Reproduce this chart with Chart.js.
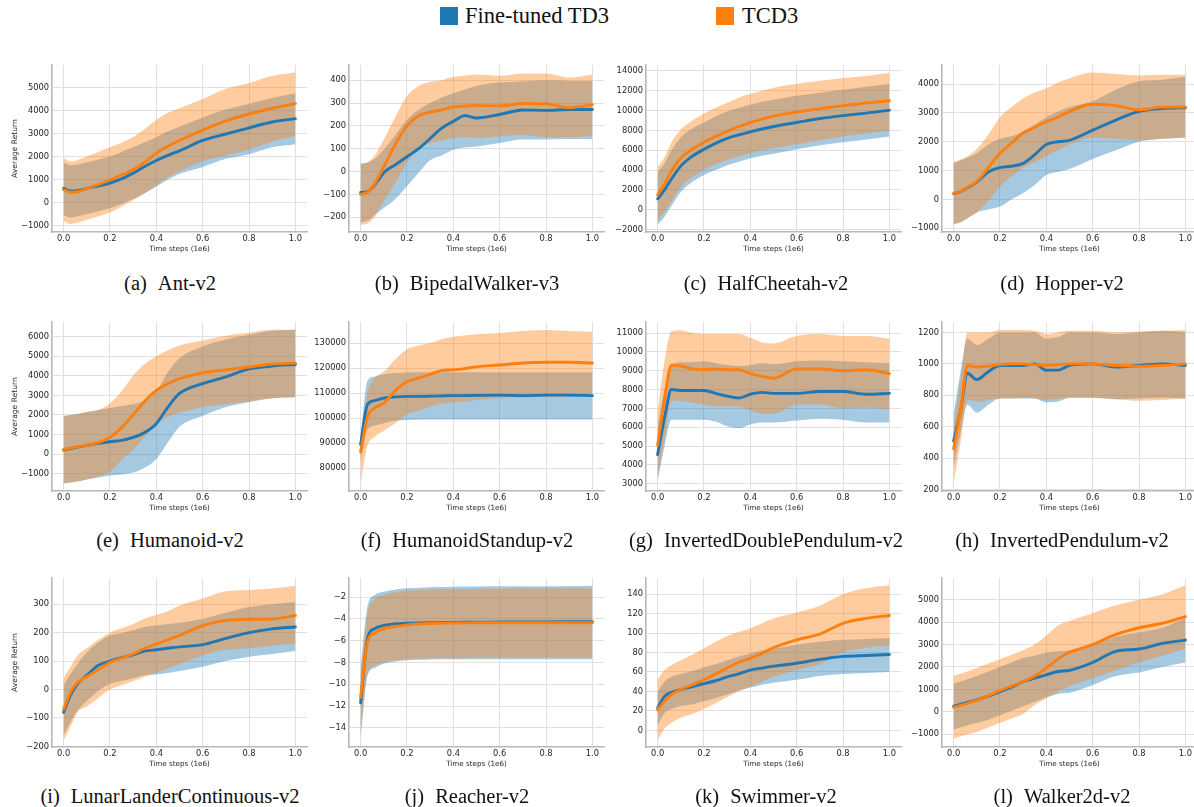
<!DOCTYPE html>
<html>
<head>
<meta charset="utf-8">
<script src="https://cdn.jsdelivr.net/npm/chart.js@4.4.1/dist/chart.umd.min.js"></script>
<style>
body { margin:0; width:1194px; height:807px; background:#fff; position:relative; overflow:hidden; font-family:"Liberation Serif", serif; }
.panel { position:absolute; }
.cap { position:absolute; font-size:20.5px; color:#111; white-space:pre; transform:translate(-50%, -50%); display:flex; gap:11px; }
.sw { position:absolute; width:18px; height:18px; }
.lt { position:absolute; font-size:22.5px; color:#111; transform:translateY(-50%); white-space:pre; }
</style>
</head>
<body>
<div class="sw" style="left:440px;top:7px;background:#1f77b4"></div>
<div class="lt" style="left:465px;top:16px">Fine-tuned TD3</div>
<div class="sw" style="left:716px;top:7px;background:#ff7f0e"></div>
<div class="lt" style="left:742px;top:16px">TCD3</div>

<script>
"use strict";

// Learning curves: fine-tuned TD3 vs TCD3, mean with shaded band

const steps = [0, 0.03, 0.06, 0.1, 0.15, 0.2, 0.25, 0.3, 0.35, 0.4, 0.45, 0.5, 0.6, 0.7, 0.8, 0.9, 1.0];
const xTicks = [0, 0.2, 0.4, 0.6, 0.8, 1.0];

// (a) Ant-v2
const antTdMean = [620, 500, 520, 620, 720, 850, 1030, 1280, 1570, 1830, 2050, 2250, 2700, 2980, 3250, 3500, 3650];
const antTdLo = [-550, -650, -600, -500, -380, -250, -60, 150, 400, 700, 1000, 1250, 1550, 1900, 2100, 2400, 2530];
const antTdHi = [1750, 1620, 1650, 1750, 1870, 2000, 2200, 2400, 2620, 2850, 3100, 3300, 3700, 4050, 4300, 4550, 4750];
const antTcMean = [560, 450, 470, 620, 780, 980, 1200, 1430, 1750, 2150, 2450, 2700, 3150, 3550, 3850, 4100, 4300];
const antTcLo = [-800, -930, -880, -750, -600, -430, -180, 100, 400, 750, 1100, 1350, 1800, 2050, 2300, 2650, 2900];
const antTcHi = [1950, 1780, 1850, 2000, 2200, 2400, 2600, 2850, 3200, 3600, 3900, 4100, 4500, 4950, 5200, 5500, 5650];
const antTicks = [-1000, 0, 1000, 2000, 3000, 4000, 5000];

// (b) BipedalWalker-v3
const bipTdMean = [-92, -88, -60, -5, 30, 65, 100, 145, 190, 220, 245, 235, 250, 270, 268, 272, 272];
const bipTdLo = [-225, -215, -190, -160, -120, -65, -5, 50, 70, 95, 105, 110, 125, 140, 140, 143, 143];
const bipTdHi = [35, 40, 55, 96, 160, 227, 270, 300, 325, 343, 360, 375, 390, 395, 400, 397, 397];
const bipTcMean = [-100, -90, -55, 20, 120, 200, 245, 260, 270, 283, 287, 290, 288, 298, 297, 280, 293];
const bipTcLo = [-235, -228, -200, -130, -50, 40, 95, 125, 135, 147, 150, 148, 155, 160, 150, 150, 157];
const bipTcHi = [35, 40, 70, 140, 240, 330, 375, 393, 400, 415, 420, 425, 420, 430, 430, 412, 425];
const bipTicks = [-200, -100, 0, 100, 200, 300, 400];

// (c) HalfCheetah-v2
const hcTdMean = [1100, 2000, 3100, 4400, 5400, 6100, 6700, 7200, 7550, 7850, 8150, 8400, 8800, 9200, 9500, 9750, 10050];
const hcTdLo = [-1500, -700, 400, 1800, 2800, 3500, 4000, 4500, 4850, 5200, 5450, 5650, 6100, 6500, 6800, 7100, 7400];
const hcTdHi = [3800, 4700, 6000, 7300, 8200, 8800, 9400, 9900, 10300, 10600, 10900, 11100, 11500, 11800, 12100, 12400, 12700];
const hcTcMean = [1500, 2600, 3900, 5200, 6100, 6800, 7400, 7900, 8400, 8800, 9150, 9450, 9850, 10200, 10500, 10750, 11000];
const hcTcLo = [-1100, -200, 800, 2300, 3300, 4000, 4600, 5000, 5400, 5700, 6000, 6200, 6600, 7000, 7400, 7700, 8000];
const hcTcHi = [4300, 5300, 6800, 8100, 9000, 9700, 10300, 10800, 11300, 11700, 12000, 12300, 12700, 13000, 13300, 13500, 13800];
const hcTicks = [-2000, 0, 2000, 4000, 6000, 8000, 10000, 12000, 14000];

// (d) Hopper-v2
const hopTdMean = [200, 270, 400, 600, 950, 1100, 1150, 1250, 1550, 1900, 2000, 2050, 2400, 2750, 3050, 3150, 3180];
const hopTdLo = [-850, -780, -650, -450, -350, -250, 0, 220, 500, 850, 950, 1050, 1400, 1700, 2000, 2100, 2150];
const hopTdHi = [1250, 1350, 1450, 1600, 1900, 2100, 2200, 2350, 2600, 2850, 3050, 3200, 3400, 3800, 4100, 4150, 4250];
const hopTcMean = [200, 280, 420, 620, 1100, 1600, 1950, 2300, 2500, 2700, 2850, 3050, 3300, 3250, 3100, 3200, 3200];
const hopTcLo = [-880, -800, -650, -450, -50, 450, 800, 1100, 1300, 1500, 1700, 1900, 2150, 2100, 2050, 2100, 2150];
const hopTcHi = [1300, 1380, 1500, 1750, 2250, 2850, 3200, 3500, 3700, 3850, 4050, 4200, 4400, 4350, 4300, 4320, 4320];
const hopTicks = [-1000, 0, 1000, 2000, 3000, 4000];

// (e) Humanoid-v2
const humTdMean = [200, 280, 350, 440, 550, 630, 700, 850, 1100, 1550, 2400, 3100, 3600, 3950, 4350, 4500, 4580];
const humTdLo = [-1500, -1450, -1400, -1300, -1200, -1100, -1050, -950, -700, -250, 600, 1400, 1950, 2400, 2650, 2850, 2900];
const humTdHi = [1950, 2000, 2050, 2150, 2250, 2350, 2450, 2550, 2750, 3200, 4200, 4900, 5500, 5850, 6100, 6300, 6350];
const humTcMean = [230, 300, 370, 450, 580, 850, 1350, 2000, 2700, 3250, 3600, 3850, 4150, 4300, 4450, 4600, 4650];
const humTcLo = [-1500, -1450, -1400, -1300, -1150, -900, -300, 200, 900, 1500, 1900, 2100, 2400, 2550, 2700, 2850, 2900];
const humTcHi = [1950, 2000, 2050, 2150, 2250, 2600, 3200, 4000, 4600, 5000, 5300, 5550, 5800, 6050, 6200, 6350, 6350];
const humTicks = [-1000, 0, 1000, 2000, 3000, 4000, 5000, 6000];

// (f) HumanoidStandup-v2
const hsTdMean = [89500, 105500, 107000, 108000, 108500, 108700, 108700, 108800, 108900, 109000, 109000, 109100, 109200, 109000, 109200, 109200, 109000];
const hsTdLo = [82000, 95500, 97000, 98000, 99000, 99300, 99400, 99500, 99500, 99500, 99500, 99500, 99500, 99500, 99500, 99500, 99500];
const hsTdHi = [93000, 115000, 116500, 117500, 118000, 118200, 118300, 118300, 118300, 118300, 118300, 118300, 118300, 118300, 118300, 118300, 118300];
const hsTcMean = [86500, 100500, 104000, 106000, 111000, 114500, 116000, 117500, 119000, 119300, 119800, 120500, 121200, 122000, 122300, 122300, 122000];
const hsTcLo = [74000, 89000, 92500, 95000, 98000, 101500, 103000, 104500, 105800, 106200, 106600, 107200, 108000, 108300, 108500, 108700, 108800];
const hsTcHi = [93000, 110000, 116000, 118500, 123500, 127500, 129000, 130000, 131500, 132500, 133000, 133500, 134000, 134800, 135200, 134800, 134500];
const hsTicks = [80000, 90000, 100000, 110000, 120000, 130000];

// (g) InvertedDoublePendulum-v2
const idpTdMean = [4550, 6500, 8000, 7950, 7950, 7950, 7800, 7650, 7550, 7750, 7850, 7800, 7800, 7900, 7900, 7750, 7800];
const idpTdLo = [3100, 5000, 6400, 6400, 6400, 6400, 6300, 6050, 5950, 6150, 6250, 6250, 6350, 6450, 6400, 6250, 6250];
const idpTdHi = [6000, 8000, 9300, 9450, 9450, 9500, 9400, 9300, 9250, 9300, 9400, 9350, 9500, 9550, 9500, 9450, 9400];
const idpTcMean = [5050, 7500, 9300, 9250, 9100, 9050, 9100, 9050, 9050, 8850, 8700, 8600, 9100, 9100, 9000, 9050, 8850];
const idpTcLo = [3300, 5400, 7400, 7400, 7300, 7200, 7100, 7100, 7100, 6900, 6700, 6700, 7200, 7200, 7000, 7050, 6950];
const idpTcHi = [6800, 9500, 11100, 11150, 11000, 10950, 10950, 10950, 10950, 10750, 10500, 10450, 10850, 10950, 10850, 10850, 10700];
const idpTicks = [3000, 4000, 5000, 6000, 7000, 8000, 9000, 10000, 11000];

// (h) InvertedPendulum-v2
const ipTdMean = [510, 700, 940, 900, 950, 990, 990, 990, 1000, 960, 960, 990, 1000, 980, 990, 1000, 990];
const ipTdLo = [340, 560, 740, 690, 740, 780, 780, 780, 780, 755, 760, 785, 785, 775, 780, 785, 780];
const ipTdHi = [680, 950, 1160, 1120, 1160, 1200, 1200, 1200, 1200, 1160, 1170, 1200, 1200, 1190, 1200, 1210, 1200];
const ipTcMean = [460, 700, 990, 980, 985, 995, 1000, 1000, 995, 990, 995, 1000, 1000, 990, 985, 990, 1000];
const ipTcLo = [240, 500, 770, 760, 770, 780, 780, 785, 780, 770, 775, 785, 785, 775, 765, 770, 780];
const ipTcHi = [600, 900, 1200, 1200, 1200, 1215, 1215, 1215, 1210, 1190, 1200, 1210, 1210, 1200, 1205, 1210, 1215];
const ipTicks = [200, 400, 600, 800, 1000, 1200];

// (i) LunarLanderContinuous-v2
const llTdMean = [-80, -20, 20, 50, 85, 100, 112, 122, 135, 140, 145, 150, 158, 180, 200, 213, 220];
const llTdLo = [-160, -115, -75, -40, -5, 20, 30, 40, 50, 53, 58, 65, 80, 100, 115, 125, 135];
const llTdHi = [15, 55, 90, 130, 165, 190, 198, 208, 220, 225, 230, 235, 248, 270, 290, 300, 308];
const llTcMean = [-70, -10, 25, 45, 70, 95, 110, 125, 145, 160, 175, 190, 225, 243, 247, 248, 260];
const llTcLo = [-180, -130, -80, -60, -30, 0, 15, 30, 45, 60, 75, 90, 120, 140, 145, 155, 160];
const llTcHi = [40, 80, 120, 145, 175, 200, 215, 230, 250, 262, 275, 295, 320, 345, 350, 355, 365];
const llTicks = [-200, -100, 0, 100, 200, 300];

// (j) Reacher-v2
const reTdMean = [-11.7, -5.8, -4.9, -4.6, -4.45, -4.4, -4.37, -4.35, -4.33, -4.32, -4.31, -4.3, -4.29, -4.28, -4.27, -4.26, -4.25];
const reTdLo = [-15, -9.2, -8.5, -8.1, -7.9, -7.8, -7.75, -7.72, -7.7, -7.7, -7.7, -7.7, -7.7, -7.7, -7.7, -7.7, -7.7];
const reTdHi = [-8.5, -2.8, -1.8, -1.5, -1.3, -1.2, -1.15, -1.1, -1.08, -1.05, -1.03, -1.02, -1.0, -1.0, -1.0, -0.98, -0.95];
const reTcMean = [-11.2, -6.1, -5.3, -4.9, -4.7, -4.55, -4.47, -4.42, -4.4, -4.38, -4.37, -4.36, -4.36, -4.35, -4.35, -4.35, -4.35];
const reTcLo = [-14.5, -9, -8.3, -8.0, -7.8, -7.7, -7.65, -7.62, -7.6, -7.6, -7.58, -7.57, -7.56, -7.55, -7.55, -7.55, -7.55];
const reTcHi = [-9, -3.5, -2.2, -1.8, -1.55, -1.4, -1.35, -1.3, -1.28, -1.27, -1.26, -1.25, -1.23, -1.22, -1.2, -1.2, -1.2];
const reTicks = [-14, -12, -10, -8, -6, -4, -2];

// (k) Swimmer-v2
const swTdMean = [23, 35, 39, 42, 45, 48, 51, 55, 58, 62, 64, 66, 69, 73, 76, 77, 78];
const swTdLo = [5, 18, 22, 25, 27, 30, 33, 37, 41, 44, 47, 49, 52, 56, 58, 59, 60];
const swTdHi = [40, 50, 55, 58, 61, 65, 68, 72, 76, 79, 82, 84, 88, 91, 93, 94, 95];
const swTcMean = [21, 30, 37, 42, 47, 52, 58, 64, 70, 74, 79, 85, 93, 99, 110, 115, 118];
const swTcLo = [-10, 2, 8, 13, 17, 22, 28, 34, 40, 45, 50, 55, 62, 68, 80, 85, 87];
const swTcHi = [52, 62, 67, 72, 78, 84, 91, 97, 101, 105, 110, 115, 121, 128, 140, 146, 149];
const swTicks = [0, 20, 40, 60, 80, 100, 120, 140];

// (l) Walker2d-v2
const wkTdMean = [250, 330, 420, 520, 700, 900, 1100, 1350, 1500, 1650, 1800, 1850, 2200, 2700, 2800, 3050, 3200];
const wkTdLo = [-800, -700, -600, -500, -350, -150, 50, 250, 450, 650, 800, 850, 1200, 1600, 1750, 2000, 2200];
const wkTdHi = [1250, 1350, 1450, 1600, 1800, 2000, 2200, 2400, 2500, 2650, 2700, 2750, 3000, 3350, 3550, 3750, 4200];
const wkTcMean = [200, 290, 380, 500, 720, 950, 1150, 1350, 1600, 1950, 2350, 2650, 3000, 3450, 3750, 3950, 4250];
const wkTcLo = [-1200, -1100, -1000, -900, -700, -500, -300, -100, 300, 600, 900, 1150, 1500, 1850, 2200, 2500, 2800];
const wkTcHi = [1600, 1700, 1800, 1950, 2150, 2350, 2550, 2750, 3000, 3400, 3850, 4050, 4400, 4750, 5000, 5250, 5650];
const wkTicks = [-1000, 0, 1000, 2000, 3000, 4000, 5000];

const panels = [
    { tag: "(a)", name: "Ant-v2", td: [antTdMean, antTdLo, antTdHi], tc: [antTcMean, antTcLo, antTcHi], ticks: antTicks, min: -1280, max: 5980 },
    { tag: "(b)", name: "BipedalWalker-v3", td: [bipTdMean, bipTdLo, bipTdHi], tc: [bipTcMean, bipTcLo, bipTcHi], ticks: bipTicks, min: -265, max: 467 },
    { tag: "(c)", name: "HalfCheetah-v2", td: [hcTdMean, hcTdLo, hcTdHi], tc: [hcTcMean, hcTcLo, hcTcHi], ticks: hcTicks, min: -2240, max: 14600 },
    { tag: "(d)", name: "Hopper-v2", td: [hopTdMean, hopTdLo, hopTdHi], tc: [hopTcMean, hopTcLo, hopTcHi], ticks: hopTicks, min: -1130, max: 4660 },
    { tag: "(e)", name: "Humanoid-v2", td: [humTdMean, humTdLo, humTdHi], tc: [humTcMean, humTcLo, humTcHi], ticks: humTicks, min: -1890, max: 6750 },
    { tag: "(f)", name: "HumanoidStandup-v2", td: [hsTdMean, hsTdLo, hsTdHi], tc: [hsTcMean, hsTcLo, hsTcHi], ticks: hsTicks, min: 70900, max: 138400 },
    { tag: "(g)", name: "InvertedDoublePendulum-v2", td: [idpTdMean, idpTdLo, idpTdHi], tc: [idpTcMean, idpTcLo, idpTcHi], ticks: idpTicks, min: 2610, max: 11590 },
    { tag: "(h)", name: "InvertedPendulum-v2", td: [ipTdMean, ipTdLo, ipTdHi], tc: [ipTcMean, ipTcLo, ipTcHi], ticks: ipTicks, min: 192, max: 1266 },
    { tag: "(i)", name: "LunarLanderContinuous-v2", td: [llTdMean, llTdLo, llTdHi], tc: [llTcMean, llTcLo, llTcHi], ticks: llTicks, min: -202, max: 392 },
    { tag: "(j)", name: "Reacher-v2", td: [reTdMean, reTdLo, reTdHi], tc: [reTcMean, reTcLo, reTcHi], ticks: reTicks, min: -15.75, max: -0.25 },
    { tag: "(k)", name: "Swimmer-v2", td: [swTdMean, swTdLo, swTdHi], tc: [swTcMean, swTcLo, swTcHi], ticks: swTicks, min: -17, max: 156.5 },
    { tag: "(l)", name: "Walker2d-v2", td: [wkTdMean, wkTdLo, wkTdHi], tc: [wkTcMean, wkTcLo, wkTcHi], ticks: wkTicks, min: -1570, max: 5970 }
];

const BLUE = "#1f77b4";
const ORANGE = "#ff7f0e";
const BLUE_BAND = "rgba(31, 119, 180, 0.4)";
const ORANGE_BAND = "rgba(255, 127, 14, 0.4)";
const GRID = "#e0e0e0";
const SPINE = "#b8b8b8";
const TXT = "#262626";

const spineX = [52, 349, 646, 942];
const plotTop = [65, 322, 578];
const plotBottom = [232, 491, 747];
const capX = [170, 467, 766, 1062];
const capY = [283, 540, 796];
const AXIS_W = 52, AXIS_H = 22, PAD_T = 8, PAD_R = 12, PLOT_W = 255;

function pts(arr) {
    return steps.map((s, i) => ({ x: s, y: arr[i] }));
}

function fmtY(v) {
    return (v < 0 ? "\u2212" : "") + Math.abs(v);
}

function band(arr, color, fill) {
    return { data: pts(arr), borderColor: "rgba(0,0,0,0)", borderWidth: 0.5, backgroundColor: color,
             fill: fill, pointRadius: 0, cubicInterpolationMode: "monotone" };
}

function meanLine(arr, color) {
    return { data: pts(arr), borderColor: color, borderWidth: 2.9, fill: false,
             pointRadius: 0, cubicInterpolationMode: "monotone", borderCapStyle: "round" };
}

panels.forEach(function(p, k) {
    let col = k % 4, row = Math.floor(k / 4);
    let box = document.createElement("div");
    box.className = "panel";
    box.style.left = (spineX[col] - AXIS_W) + "px";
    box.style.top = (plotTop[row] - PAD_T) + "px";
    box.style.width = (AXIS_W + PLOT_W + PAD_R) + "px";
    box.style.height = (plotBottom[row] - plotTop[row] + PAD_T + AXIS_H) + "px";
    let cv = document.createElement("canvas");
    box.appendChild(cv);
    document.body.appendChild(box);

    let cap = document.createElement("div");
    cap.className = "cap";
    cap.style.left = capX[col] + "px";
    cap.style.top = capY[row] + "px";
    let t1 = document.createElement("span");
    t1.textContent = p.tag;
    let t2 = document.createElement("span");
    t2.textContent = p.name;
    cap.appendChild(t1);
    cap.appendChild(t2);
    document.body.appendChild(cap);

    new Chart(cv.getContext("2d"), {
        type: "line",
        data: {
            datasets: [
                meanLine(p.tc[0], ORANGE),
                meanLine(p.td[0], BLUE),
                band(p.tc[2], ORANGE_BAND, "+1"),
                band(p.tc[1], ORANGE_BAND, false),
                band(p.td[2], BLUE_BAND, "+1"),
                band(p.td[1], BLUE_BAND, false)
            ]
        },
        options: {
            responsive: true,
            maintainAspectRatio: false,
            animation: false,
            events: [],
            layout: { padding: { top: PAD_T, right: PAD_R, left: 0, bottom: 0 } },
            plugins: {
                legend: { display: false },
                tooltip: { enabled: false },
                filler: { drawTime: "beforeDatasetsDraw" }
            },
            scales: {
                x: {
                    type: "linear",
                    min: -0.05,
                    max: 1.05,
                    afterBuildTicks: function(s) { s.ticks = xTicks.map(v => ({ value: v })); },
                    afterFit: function(s) { s.height = AXIS_H; },
                    grid: { color: GRID, lineWidth: 1, drawTicks: false },
                    border: { color: SPINE, width: 1.6 },
                    ticks: { padding: 2, color: TXT, maxRotation: 0, autoSkip: false,
                             font: { family: "DejaVu Sans", size: 8.3 },
                             callback: v => v.toFixed(1) },
                    title: { display: true, text: "Time steps (1e6)", color: TXT,
                             font: { family: "DejaVu Sans", size: 7.2 }, padding: { top: 0, bottom: 1 } }
                },
                y: {
                    min: p.min,
                    max: p.max,
                    afterBuildTicks: function(s) { s.ticks = p.ticks.map(v => ({ value: v })); },
                    afterFit: function(s) { s.width = AXIS_W; },
                    grid: { color: GRID, lineWidth: 1, drawTicks: false },
                    border: { color: SPINE, width: 1.6 },
                    ticks: { padding: 3, color: TXT, autoSkip: false,
                             font: { family: "DejaVu Sans", size: 8.3 },
                             callback: v => fmtY(v) },
                    title: { display: col === 0, text: "Average Return", color: TXT,
                             font: { family: "DejaVu Sans", size: 7.6 }, padding: { top: 10.5, bottom: 0 } }
                }
            }
        }
    });
});
</script>
</body>
</html>
